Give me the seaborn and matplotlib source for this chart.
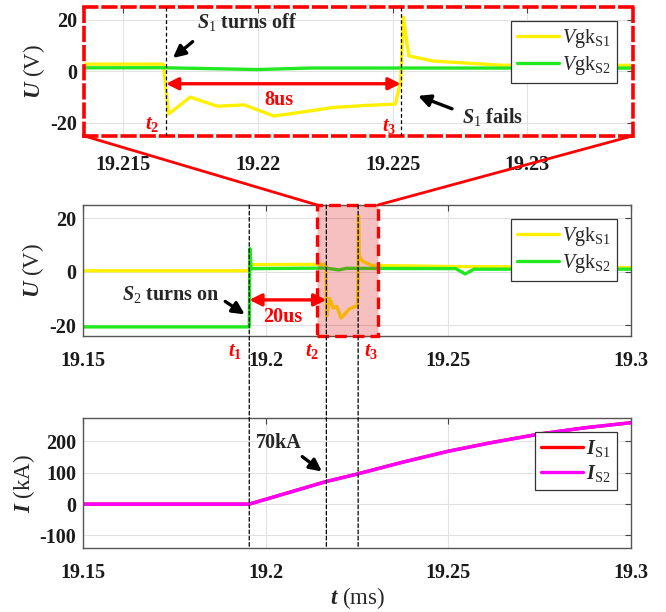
import numpy as np
import pandas as pd
import matplotlib
matplotlib.use("Agg")
import matplotlib.pyplot as plt
from matplotlib.patches import Rectangle, ConnectionPatch
import seaborn as sns

# ---- gate-cathode voltages (time in ms, voltage in V) ----
t_s1 = [19.150, 19.1954, 19.1956, 19.2165, 19.2167, 19.2175, 19.2185, 19.2195,
        19.2206, 19.2215, 19.2228, 19.2240, 19.2251, 19.2253, 19.2254, 19.2256,
        19.2265, 19.2290, 19.2500, 19.3000]
v_s1 = [0.4, 0.4, 2.7, 2.8, -16.5, -10.0, -13.5, -13.0,
        -17.3, -16.0, -14.0, -13.2, -12.7, -4.0, 21.0, 6.0,
        4.0, 2.4, 2.0, 1.6]

t_s2 = [19.150, 19.1955, 19.1957, 19.1960, 19.2165, 19.2200, 19.2220, 19.2520,
        19.2546, 19.2570, 19.3000]
v_s2 = [-20.6, -20.6, 8.7, 1.2, 1.4, 0.7, 1.3, 1.2,
        -0.8, 1.0, 1.0]

# ---- thyristor currents (kA) ----
t_i = [19.150, 19.1955, 19.2165, 19.225, 19.2375, 19.250, 19.2625, 19.275, 19.2875, 19.300]
i_s1 = [0, 0, 72, 96, 134, 169, 198, 224, 244, 260]
i_s2 = [0, 0, 72, 96, 134, 169, 198, 224, 244, 260]

# event instants (ms)
t1, t2, t3 = 19.1955, 19.2166, 19.2253

mid_ticks = [19.15, 19.2, 19.25, 19.3]
mid_ticklabels = ["19.15", "19.2", "19.25", "19.3"]
top_ticks = [19.215, 19.22, 19.225, 19.23]
top_ticklabels = ["19.215", "19.22", "19.225", "19.23"]
u_ticks = [-20, 0, 20]
i_ticks = [-100, 0, 100, 200]

sns.set_theme(style="white")
plt.rcParams["font.family"] = ["Liberation Serif", "DejaVu Serif"]
plt.rcParams["mathtext.fontset"] = "custom"
plt.rcParams["mathtext.rm"] = "Liberation Serif"
plt.rcParams["mathtext.it"] = "Liberation Serif:italic"
plt.rcParams["mathtext.bf"] = "Liberation Serif:bold"
plt.rcParams["mathtext.bfit"] = "Liberation Serif:bold:italic"

YELLOW = "#FFF000"
GREEN = "#22E822"
MAGENTA = "#FF00FF"
RED = "#FF0000"
FS = 14.5
LFS = 16.5

df_s1 = pd.DataFrame({"t": t_s1, "v": v_s1})
df_s2 = pd.DataFrame({"t": t_s2, "v": v_s2})
df_i = pd.DataFrame({"t": t_i, "i1": i_s1, "i2": i_s2})

fig = plt.figure(figsize=(6.66, 6.12), dpi=100)
ax_top = fig.add_axes([0.126, 0.778, 0.824, 0.2108])
ax_mid = fig.add_axes([0.1246, 0.451, 0.823, 0.214])
ax_bot = fig.add_axes([0.1246, 0.1046, 0.823, 0.2124])


def style_axes(ax, xt, xtl, yt, xpad=11):
    ax.set_xticks(xt)
    ax.set_xticklabels(xtl, fontweight="bold", fontsize=FS)
    ax.set_yticks(yt)
    ax.set_yticklabels([str(v) for v in yt], fontweight="bold", fontsize=FS)
    ax.tick_params(direction="in", top=True, right=True, length=4, width=0.8,
                   color="#444444", labelcolor="#1a1a1a")
    ax.tick_params(axis="x", pad=xpad)
    ax.tick_params(axis="y", pad=5)
    ax.grid(True, color="#e2e2e2", lw=0.8)
    ax.set_axisbelow(True)
    for s in ax.spines.values():
        s.set_color("#555555")
        s.set_linewidth(1.0)


def voltage_lines(ax):
    sns.lineplot(data=df_s1, x="t", y="v", ax=ax, color=YELLOW, lw=2.4,
                 estimator=None, label=r"$\mathit{V}\mathrm{gk}_{\mathrm{S1}}$")
    sns.lineplot(data=df_s2, x="t", y="v", ax=ax, color=GREEN, lw=2.4,
                 estimator=None, label=r"$\mathit{V}\mathrm{gk}_{\mathrm{S2}}$")


def add_legend(ax, anchor):
    leg = ax.legend(loc="upper right", bbox_to_anchor=anchor, borderaxespad=0,
                    fontsize=FS, handlelength=2.1, labelspacing=0.2,
                    borderpad=0.3, handletextpad=0.15, fancybox=False,
                    framealpha=1, edgecolor="#333333")
    leg.get_frame().set_linewidth(0.9)
    return leg


ARROW = dict(arrowstyle="-|>", color="black", lw=2.4, mutation_scale=18)
DARROW = dict(arrowstyle="<|-|>", color=RED, lw=2.4, mutation_scale=18,
              shrinkA=0, shrinkB=0)

# ---------------- zoomed view ----------------
voltage_lines(ax_top)
ax_top.set_xlim(19.21356, 19.2339)
ax_top.set_ylim(-25, 25)
style_axes(ax_top, top_ticks, top_ticklabels, u_ticks, xpad=14)
for s in ax_top.spines.values():
    s.set_color(RED)
    s.set_linewidth(2.6)
    s.set_linestyle((0, (3.5, 1.8)))
ax_top.set_xlabel("")
ax_top.set_ylabel(r"$\mathbfit{U}$ (V)", fontsize=LFS, labelpad=2)
for tt in (t2, t3):
    ax_top.axvline(tt, color="black", lw=0.9, ls=(0, (3, 2)), zorder=3)
add_legend(ax_top, (0.971, 0.891))

ax_top.annotate("", xy=(19.21678, 4.5), xytext=(19.21767, 12.2), arrowprops=ARROW)
ax_top.text(19.21774, 19.2, r"$\mathbfit{S}_{\mathrm{1}}$ turns off",
            fontsize=FS, fontweight="bold", ha="left", va="center")
ax_top.annotate("", xy=(t3, -4.8), xytext=(t2, -4.8), arrowprops=DARROW)
ax_top.text(19.2208, -11.0, "8us", color=RED, fontsize=FS, fontweight="bold",
            ha="center", va="center")
ax_top.annotate("", xy=(19.22585, -9.1), xytext=(19.2273, -14.9), arrowprops=ARROW)
ax_top.text(19.22756, -17.6, r"$\mathbfit{S}_{\mathrm{1}}$ fails",
            fontsize=FS, fontweight="bold", ha="left", va="center")
ax_top.text(19.21607, -20.7, r"$\mathbfit{t}_{\mathbf{2}}$", color=RED,
            fontsize=FS, ha="center", va="center")
ax_top.text(19.22489, -21.5, r"$\mathbfit{t}_{\mathbf{3}}$", color=RED,
            fontsize=FS, ha="center", va="center")

# ---------------- gate voltages ----------------
voltage_lines(ax_mid)
ax_mid.set_xlim(19.15, 19.3)
ax_mid.set_ylim(-24, 25)
style_axes(ax_mid, mid_ticks, mid_ticklabels, u_ticks)
ax_mid.set_xlabel("")
ax_mid.set_ylabel(r"$\mathbfit{U}$ (V)", fontsize=LFS, labelpad=2)
add_legend(ax_mid, (0.974, 0.893))

zx0, zx1 = 19.2141, 19.2307
ax_mid.add_patch(Rectangle((zx0, -24), zx1 - zx0, 49,
                           facecolor=(0.88, 0.05, 0.05, 0.26),
                           edgecolor=RED, lw=2.4, ls=(0, (3.5, 1.8)),
                           zorder=5, clip_on=False))

ax_mid.annotate("", xy=(19.1949, -16.5), xytext=(19.1883, -10.5), arrowprops=ARROW)
ax_mid.text(19.1607, -8.3, r"$\mathbfit{S}_{\mathrm{2}}$ turns on",
            fontsize=FS, fontweight="bold", ha="left", va="center")
ax_mid.annotate("", xy=(t2, -10.5), xytext=(t1, -10.5), arrowprops=DARROW,
                zorder=6)
ax_mid.text(19.2047, -16.9, "20us", color=RED, fontsize=FS, fontweight="bold",
            ha="center", va="center")
for lab, xx in ((r"$\mathbfit{t}_{\mathbf{1}}$", 19.1916),
                (r"$\mathbfit{t}_{\mathbf{2}}$", 19.2127),
                (r"$\mathbfit{t}_{\mathbf{3}}$", 19.2288)):
    ax_mid.text(xx, -29.8, lab, color=RED, fontsize=FS, ha="center",
                va="center", clip_on=False)

# ---------------- currents ----------------
sns.lineplot(data=df_i, x="t", y="i1", ax=ax_bot, color=RED, lw=2.4,
             estimator=None, label=r"$\mathbfit{I}_{\mathrm{S1}}$")
sns.lineplot(data=df_i, x="t", y="i2", ax=ax_bot, color=MAGENTA, lw=2.4,
             estimator=None, label=r"$\mathbfit{I}_{\mathrm{S2}}$")
ax_bot.set_xlim(19.15, 19.3)
ax_bot.set_ylim(-140, 275)
style_axes(ax_bot, mid_ticks, mid_ticklabels, i_ticks)
ax_bot.set_xlabel(r"$\mathbfit{t}$ (ms)", fontsize=LFS, labelpad=1)
ax_bot.set_ylabel(r"$\mathbfit{I}$ (kA)", fontsize=LFS, labelpad=2)
add_legend(ax_bot, (0.974, 0.892))
ax_bot.annotate("", xy=(19.216, 99), xytext=(19.2094, 157), arrowprops=ARROW)
ax_bot.text(19.1974, 195, "70kA", fontsize=FS, fontweight="bold",
            ha="left", va="center")

# dashed event markers running through the lower two panels
for tt in (t1, t2, t3):
    fig.add_artist(ConnectionPatch(xyA=(tt, 25), coordsA=ax_mid.transData,
                                   xyB=(tt, -140), coordsB=ax_bot.transData,
                                   color="black", lw=0.9, ls=(0, (3, 2)),
                                   zorder=4))

# red zoom connectors
fig.add_artist(ConnectionPatch(xyA=(0, 0), coordsA=ax_top.transAxes,
                               xyB=(zx0, 25), coordsB=ax_mid.transData,
                               color=RED, lw=2.0, zorder=6))
fig.add_artist(ConnectionPatch(xyA=(1, 0), coordsA=ax_top.transAxes,
                               xyB=(zx1, 25), coordsB=ax_mid.transData,
                               color=RED, lw=2.0, zorder=6))

fig.savefig("out.png", dpi=100)
